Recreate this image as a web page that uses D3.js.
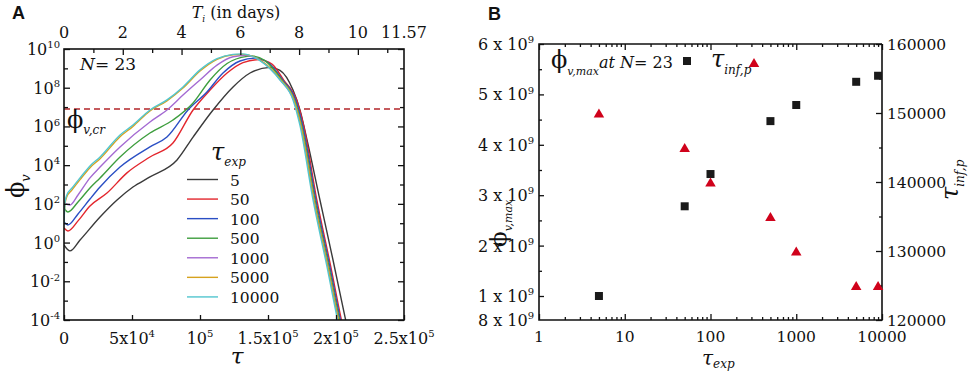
<!DOCTYPE html>
<html><head><meta charset="utf-8">
<script src="https://cdn.jsdelivr.net/npm/d3@7"></script>
<style>
body{margin:0;background:#fff}
</style>
</head><body>
<svg id="c" width="969" height="371"></svg>
<script>
// ---------------- DATA : panel A (tau, log10 phi_v) ----------------
const seriesNames = ["5","50","100","500","1000","5000","10000"];
const seriesColors = ["#3a3a3a","#e3262d","#2a4fc4","#3e9e3e","#a46ad2","#d6a21e","#52c6cf"];
const tau_5 = [0,4400,11800,26500,39000,50700,63200,83100,94900,109600,124300,136800,151500,158800,168400,173500,178700,188200,197800,206600,209000];
const logPhi_5 = [-0.12,-0.43,0.13,1.32,2.2,2.87,3.39,4.27,5.45,6.85,8.04,8.76,9.05,8.9,7.88,6.85,5.3,2.2,-0.9,-3.84,-4.6];
const tau_50 = [0,2900,10300,19100,31600,46300,63200,80100,94900,107400,119900,131600,143400,152900,161700,171300,176300,185900,196200,203500,205800];
const logPhi_50 = [0.75,0.6,1.12,1.89,2.56,3.6,4.42,5.14,6.85,7.88,8.76,9.3,9.45,9.22,8.38,7.31,6.0,2.2,-1.26,-3.84,-4.6];
const tau_100 = [0,2900,10300,19100,26500,41200,63200,75700,91200,105100,116900,129400,140400,150000,161000,170600,175600,185200,195500,202800,205100];
const logPhi_100 = [1.06,0.91,1.48,2.25,2.87,3.9,4.94,5.45,6.85,7.78,8.76,9.38,9.53,9.3,8.38,7.31,6.0,2.2,-1.26,-3.84,-4.6];
const tau_500 = [0,2900,10300,19100,26500,41200,63200,80100,94900,107400,119900,134600,138200,147800,160300,169800,174900,184500,194800,202100,204400];
const logPhi_500 = [1.79,1.58,2.1,2.82,3.34,4.42,5.66,6.33,7.21,8.4,9.25,9.62,9.64,9.4,8.38,7.31,6.0,2.2,-1.26,-3.84,-4.6];
const tau_1000 = [0,4400,10300,19100,26500,41200,63200,75700,87500,100000,112500,124300,133800,145600,159600,169100,174200,183800,194100,201400,203700];
const logPhi_1000 = [2.05,1.94,2.46,3.34,3.9,4.94,6.23,6.85,7.62,8.4,9.17,9.6,9.68,9.35,8.35,7.31,6.0,2.2,-1.26,-3.84,-4.6];
const tau_5000 = [0,800,2000,5900,11800,19100,26500,41200,50700,63200,75700,87500,100000,112500,124300,131600,144800,159500,169100,174200,183800,194100,201400,203700];
const logPhi_5000 = [1.3,2.0,2.35,2.72,3.25,3.87,4.33,5.47,6.0,6.8,7.32,7.98,8.86,9.47,9.7,9.72,9.4,8.4,7.37,6.05,2.2,-1.26,-3.84,-4.6];
const tau_10000 = [0,800,2000,5900,11800,19100,26500,41200,50700,63200,75700,87500,100000,112500,124300,130900,144100,158800,168400,173500,183100,193400,200700,203000];
const logPhi_10000 = [1.0,2.1,2.45,2.82,3.34,3.96,4.42,5.56,6.07,6.85,7.37,8.04,8.92,9.5,9.72,9.75,9.4,8.4,7.37,6.05,2.2,-1.26,-3.84,-4.6];
const phiCritical = 8e6;
const xTickValsA = [0,5e4,1e5,1.5e5,2e5,2.5e5];
const xTickLabelsA = [["0",""],["5x10","4"],["10","5"],["1.5x10","5"],["2x10","5"],["2.5x10","5"]];
const topTickValsA = [0,2,4,6,8,10,11.57];
const yExpLabelsA = [10,8,6,4,2,0,-2,-4];

// ---------------- DATA : panel B ----------------
const tauExpB = [5,50,100,500,1000,5000,9000];
const phiMaxB = [1.0e9,2.78e9,3.42e9,4.47e9,4.79e9,5.25e9,5.37e9];
const tauInfP = [150000,145000,140000,135000,130000,125000,125000];
const xTickValsB = [1,10,100,1000,10000];
const yLeftTickValsB = [1e9,2e9,3e9,4e9,5e9,6e9];
const yLeftTickLabelsB = ["1","2","3","4","5","6"];
const yRightTickValsB = [120000,130000,140000,150000,160000];

const tauList = [tau_5,tau_50,tau_100,tau_500,tau_1000,tau_5000,tau_10000];
const phiList = [logPhi_5,logPhi_50,logPhi_100,logPhi_500,logPhi_1000,logPhi_5000,logPhi_10000];

const svg = d3.select("#c");
const SERIF = "DejaVu Serif, Liberation Serif, serif";

function sup(t, base, s, fs, ssz){
  t.append("tspan").text(base);
  if(s) t.append("tspan").attr("dy", -0.42*fs).attr("font-size", ssz).text(s);
}
function ticks(g, axisFn, scale, vals, size){
  g.call(axisFn(scale).tickValues(vals).tickSizeInner(size).tickSizeOuter(0).tickFormat(""));
  g.select(".domain").remove();
  g.selectAll("line").attr("stroke","#111").attr("stroke-width",1.3);
}
function txt(g){ return g.append("text").style("font-family",SERIF).attr("fill","#111"); }

// ================= PANEL A =================
const L=64,R=404,T=49,B=320;
const x = d3.scaleLinear().domain([0,2.5e5]).range([L,R]);
const xTop = d3.scaleLinear().domain([0,11.57]).range([L,R]);
const y = d3.scaleLog().domain([1e-4,1e10]).range([B,T]);

svg.append("defs").append("clipPath").attr("id","clipA")
  .append("rect").attr("x",L).attr("y",T).attr("width",R-L).attr("height",B-T);

const gA = svg.append("g");
const plotA = gA.append("g").attr("clip-path","url(#clipA)");

plotA.append("line").attr("x1",L).attr("x2",R).attr("y1",y(phiCritical)).attr("y2",y(phiCritical))
  .attr("stroke","#b3262a").attr("stroke-width",1.6).attr("stroke-dasharray","6,4");

const line = d3.line().x(d=>x(d[0])).y(d=>y(Math.pow(10,d[1]))).curve(d3.curveMonotoneX);
tauList.forEach((ts,i)=>{
  const pts = ts.map((t,j)=>[t,phiList[i][j]]);
  plotA.append("path").attr("d",line(pts)).attr("fill","none")
    .attr("stroke",seriesColors[i]).attr("stroke-width",1.4);
});

const decadesA = d3.range(-4,11);
ticks(gA.append("g").attr("transform",`translate(${L},0)`), d3.axisLeft, y, decadesA.filter(e=>e%2===0).map(e=>Math.pow(10,e)), -6);
ticks(gA.append("g").attr("transform",`translate(${L},0)`), d3.axisLeft, y, decadesA.filter(e=>e%2!==0).map(e=>Math.pow(10,e)), -4);
ticks(gA.append("g").attr("transform",`translate(${R},0)`), d3.axisRight, y, decadesA.filter(e=>e%2===0).map(e=>Math.pow(10,e)), -6);
ticks(gA.append("g").attr("transform",`translate(${R},0)`), d3.axisRight, y, decadesA.filter(e=>e%2!==0).map(e=>Math.pow(10,e)), -4);
ticks(gA.append("g").attr("transform",`translate(0,${B})`), d3.axisBottom, x, xTickValsA, -5);
ticks(gA.append("g").attr("transform",`translate(0,${T})`), d3.axisTop, xTop, [2,4,6,8,10], -6);
ticks(gA.append("g").attr("transform",`translate(0,${T})`), d3.axisTop, xTop, [1,3,5,7,9,11], -4);

gA.append("rect").attr("x",L).attr("y",T).attr("width",R-L).attr("height",B-T)
  .attr("fill","none").attr("stroke","#111").attr("stroke-width",1.6);

yExpLabelsA.forEach(e=>{
  const t = txt(gA).attr("x",60).attr("y",y(Math.pow(10,e))+6).attr("text-anchor","end").attr("font-size",16);
  sup(t,"10",String(e),16,10);
});
xTickValsA.forEach((v,i)=>{
  const t = txt(gA).attr("x",x(v)).attr("y",344).attr("text-anchor","middle").attr("font-size",16);
  sup(t,xTickLabelsA[i][0],xTickLabelsA[i][1],16,10);
});
topTickValsA.forEach(v=>{
  txt(gA).attr("x",xTop(v)).attr("y",38).attr("text-anchor","middle").attr("font-size",16).text(String(v));
});
{
  const t = txt(gA).attr("x",236).attr("y",18).attr("text-anchor","middle").attr("font-size",16);
  t.append("tspan").attr("font-style","italic").text("T");
  t.append("tspan").attr("font-size",9).attr("font-style","italic").attr("dy",4).text("i");
  t.append("tspan").attr("dy",-4).text(" (in days)");
}
txt(gA).attr("x",237).attr("y",364).attr("text-anchor","middle").attr("font-size",23).attr("font-style","italic").text("τ");
{
  const t = txt(gA).attr("transform","translate(24,198) rotate(-90)").attr("font-size",24);
  t.append("tspan").text("ϕ");
  t.append("tspan").attr("font-size",13).attr("font-style","italic").attr("dy",6).text("v");
}
{
  const t = txt(gA).attr("x",80).attr("y",70).attr("font-size",17);
  t.append("tspan").attr("font-style","italic").text("N");
  t.append("tspan").text("= 23");
}
{
  const t = txt(gA).attr("x",67).attr("y",128).attr("font-size",24);
  t.append("tspan").text("ϕ");
  t.append("tspan").attr("font-size",12).attr("font-style","italic").attr("dy",6).text("v,cr");
}
{
  const t = txt(gA).attr("x",211).attr("y",160).attr("font-size",24).attr("font-style","italic");
  t.append("tspan").text("τ");
  t.append("tspan").attr("font-size",12).attr("dy",6).text("exp");
}
seriesNames.forEach((n,i)=>{
  const yy = 179.5 + i*19.57;
  gA.append("line").attr("x1",187).attr("x2",218).attr("y1",yy).attr("y2",yy)
    .attr("stroke",seriesColors[i]).attr("stroke-width",1.4);
  txt(gA).attr("x",230).attr("y",yy+6).attr("font-size",15.5).text(n);
});
svg.append("text").attr("x",12).attr("y",19).attr("font-size",18).attr("font-weight","bold").attr("fill","#111")
  .style("font-family","Liberation Sans, Arial, sans-serif").text("A");

// ================= PANEL B =================
const L2=539,R2=882,T2=44,B2=320;
const xB = d3.scaleLog().domain([1,1e4]).range([L2,R2]);
const yL = d3.scaleLinear().domain([0.8e9,1e9,6e9]).range([B2,296,T2]);
const yR = d3.scaleLinear().domain([120000,160000]).range([B2,T2]);
const gB = svg.append("g");

const minorLog = [];
[1,10,100,1000].forEach(d=>{for(let k=2;k<=9;k++) minorLog.push(d*k);});
ticks(gB.append("g").attr("transform",`translate(0,${B2})`), d3.axisBottom, xB, xTickValsB, -6);
ticks(gB.append("g").attr("transform",`translate(0,${B2})`), d3.axisBottom, xB, minorLog, -3);
ticks(gB.append("g").attr("transform",`translate(0,${T2})`), d3.axisTop, xB, xTickValsB, -6);
ticks(gB.append("g").attr("transform",`translate(0,${T2})`), d3.axisTop, xB, minorLog, -3);
ticks(gB.append("g").attr("transform",`translate(${L2},0)`), d3.axisLeft, yL, yLeftTickValsB, -5);
ticks(gB.append("g").attr("transform",`translate(${L2},0)`), d3.axisLeft, yL, [1.5e9,2.5e9,3.5e9,4.5e9,5.5e9], -3);
ticks(gB.append("g").attr("transform",`translate(${R2},0)`), d3.axisRight, yR, yRightTickValsB, -6);
ticks(gB.append("g").attr("transform",`translate(${R2},0)`), d3.axisRight, yR, [125000,135000,145000,155000], -3);

gB.append("path").attr("d",`M${R2},${T2}V${B2}H${L2}V${T2}H${R2}`)
  .attr("fill","none").attr("stroke","#111").attr("stroke-width",1.6);

const sq = d3.symbol(d3.symbolSquare).size(64);
const tri = d3.symbol(d3.symbolTriangle).size(48);
tauExpB.forEach((t,i)=>{
  gB.append("path").attr("d",sq()).attr("transform",`translate(${xB(t)},${yL(phiMaxB[i])})`).attr("fill","#1a1a1a");
});
tauExpB.forEach((t,i)=>{
  gB.append("path").attr("d",tri()).attr("transform",`translate(${xB(t)},${yR(tauInfP[i])+1.5})`).attr("fill","#d0021b");
});

yLeftTickValsB.forEach((v,i)=>{
  const t = txt(gB).attr("x",534).attr("y",yL(v)+6).attr("text-anchor","end").attr("font-size",16);
  sup(t,yLeftTickLabelsB[i]+" x 10","9",16,10);
});
{
  const t = txt(gB).attr("x",534).attr("y",yL(0.8e9)+6).attr("text-anchor","end").attr("font-size",16);
  sup(t,"8 x 10","9",16,10);
}
yRightTickValsB.forEach(v=>{
  txt(gB).attr("x",887).attr("y",yR(v)+6).attr("font-size",15.5).text(String(v));
});
xTickValsB.forEach(v=>{
  txt(gB).attr("x",xB(v)).attr("y",342).attr("text-anchor","middle").attr("font-size",15.5).text(String(v));
});
{
  const t = txt(gB).attr("x",702).attr("y",365).attr("font-size",20).attr("font-style","italic");
  t.append("tspan").text("τ");
  t.append("tspan").attr("font-size",12).attr("dy",3).text("exp");
}
{
  const t = txt(gB).attr("transform","translate(506,247) rotate(-90)").attr("font-size",23);
  t.append("tspan").text("ϕ");
  t.append("tspan").attr("font-size",11).attr("font-style","italic").attr("dy",6).text("v,max");
}
{
  const t = txt(gB).attr("transform","translate(958,200) rotate(-90)").attr("font-size",24).attr("font-style","italic");
  t.append("tspan").text("τ");
  t.append("tspan").attr("font-size",12).attr("dy",6).text("inf,p");
}
{
  const t = txt(gB).attr("x",551).attr("y",68).attr("font-size",24);
  t.append("tspan").text("ϕ");
  t.append("tspan").attr("font-size",11).attr("font-style","italic").attr("dy",7).text("v,max");
  t.append("tspan").attr("font-size",16).attr("font-style","italic").attr("dy",-7).text("at N");
  t.append("tspan").attr("font-size",16).text("= 23");
}
gB.append("path").attr("d",sq()).attr("transform","translate(687,61)").attr("fill","#1a1a1a");
{
  const t = txt(gB).attr("x",711).attr("y",67).attr("font-size",24).attr("font-style","italic");
  t.append("tspan").text("τ");
  t.append("tspan").attr("font-size",12).attr("dy",7).text("inf,p");
}
gB.append("path").attr("d",tri()).attr("transform","translate(754,64)").attr("fill","#d0021b");
svg.append("text").attr("x",488).attr("y",20).attr("font-size",18).attr("font-weight","bold").attr("fill","#111")
  .style("font-family","Liberation Sans, Arial, sans-serif").text("B");
</script>
</body></html>
